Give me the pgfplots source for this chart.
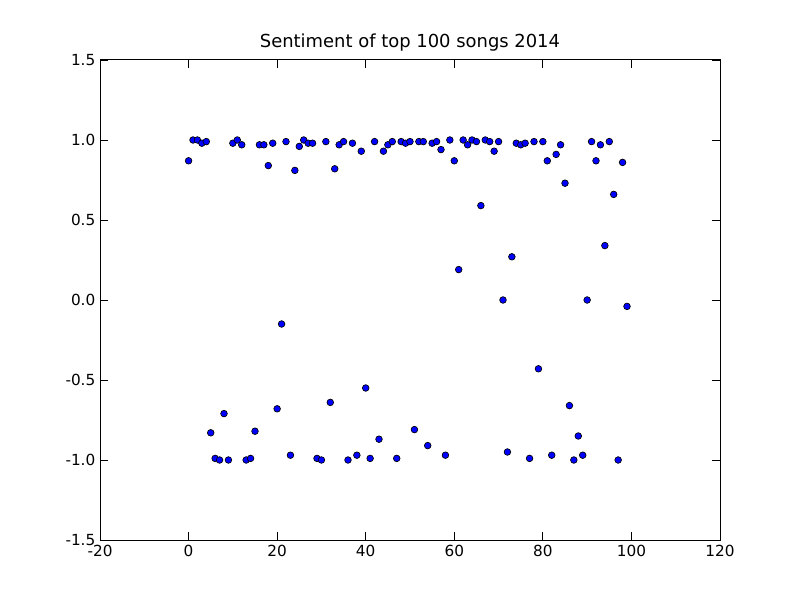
\documentclass[border=0pt]{standalone}
\usepackage{pgfplots}
\pgfplotsset{compat=1.18}
\usepackage{fontspec}
\setmainfont{DejaVu Sans}
\begin{document}
\begin{tikzpicture}
\path[use as bounding box] (0,0) rectangle (600bp,450bp);
\begin{axis}[at={(75bp,45bp)}, anchor=south west, scale only axis,
 width=465bp, height=360bp, xmin=-20, xmax=120, ymin=-1.5, ymax=1.5,
 xtick={-20,0,...,120}, ytick={-1.5,-1.0,...,1.5},
 yticklabel style={/pgf/number format/.cd,fixed,fixed zerofill,precision=1},
 /pgf/number format/assume math mode=true,
 tick align=inside, major tick length=6bp, tick style={black,line width=0.6pt},
 ticklabel style={font=\fontsize{11.5}{13}\selectfont},
 title={Sentiment of top 100 songs 2014}, title style={font=\fontsize{13.5}{15}\selectfont, yshift=-3pt},
 axis line style={line width=0.75pt}]
\addplot[only marks, mark=*, mark size=2.5pt, mark options={fill=blue, draw=black, line width=0.5pt}] coordinates {
(0,0.87)(1,1.0)(2,1.0)(3,0.98)(4,0.99)(5,-0.83)(6,-0.99)(7,-1.0)(8,-0.71)(9,-1.0)
(10,0.98)(11,1.0)(12,0.97)(13,-1.0)(14,-0.99)(15,-0.82)(16,0.97)(17,0.97)(18,0.84)(19,0.98)
(20,-0.68)(21,-0.15)(22,0.99)(23,-0.97)(24,0.81)(25,0.96)(26,1.0)(27,0.98)(28,0.98)(29,-0.99)
(30,-1.0)(31,0.99)(32,-0.64)(33,0.82)(34,0.97)(35,0.99)(36,-1.0)(37,0.98)(38,-0.97)(39,0.93)
(40,-0.55)(41,-0.99)(42,0.99)(43,-0.87)(44,0.93)(45,0.97)(46,0.99)(47,-0.99)(48,0.99)(49,0.98)
(50,0.99)(51,-0.81)(52,0.99)(53,0.99)(54,-0.91)(55,0.98)(56,0.99)(57,0.94)(58,-0.97)(59,1.0)
(60,0.87)(61,0.19)(62,1.0)(63,0.97)(64,1.0)(65,0.99)(66,0.59)(67,1.0)(68,0.99)(69,0.93)
(70,0.99)(71,0.0)(72,-0.95)(73,0.27)(74,0.98)(75,0.97)(76,0.98)(77,-0.99)(78,0.99)(79,-0.43)
(80,0.99)(81,0.87)(82,-0.97)(83,0.91)(84,0.97)(85,0.73)(86,-0.66)(87,-1.0)(88,-0.85)(89,-0.97)
(90,0.0)(91,0.99)(92,0.87)(93,0.97)(94,0.34)(95,0.99)(96,0.66)(97,-1.0)(98,0.86)(99,-0.04)
};
\end{axis}
\end{tikzpicture}
\end{document}
